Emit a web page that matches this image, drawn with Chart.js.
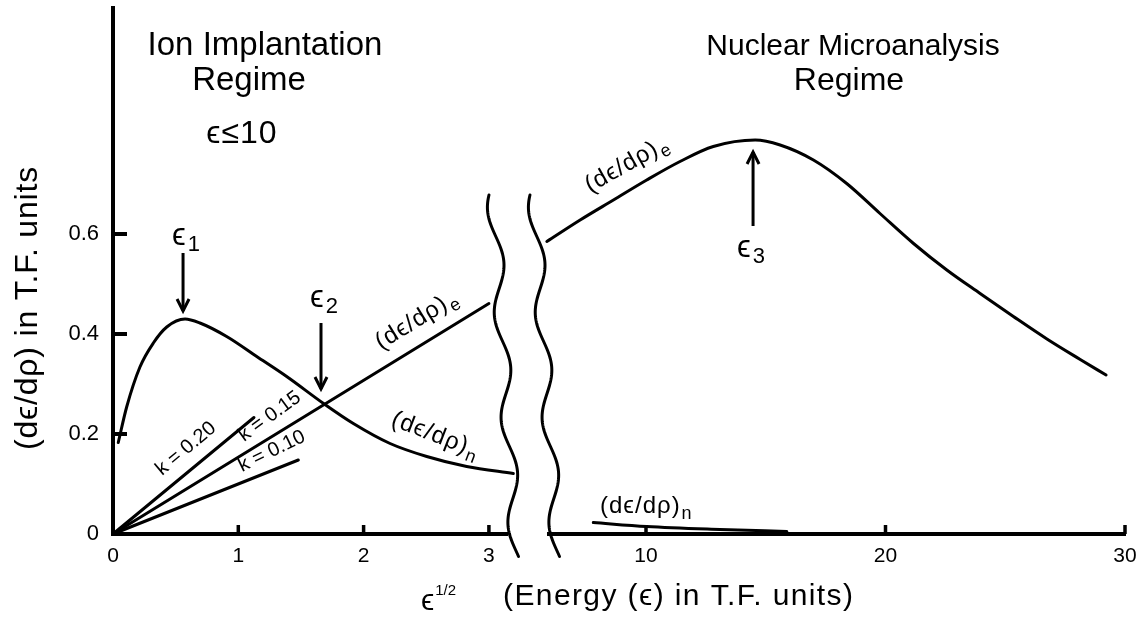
<!DOCTYPE html>
<html>
<head>
<meta charset="utf-8">
<script src="https://cdn.jsdelivr.net/npm/chart.js@4.4.1/dist/chart.umd.min.js"></script>
<style>
  html, body { margin: 0; padding: 0; background: #fff; }
  #wrap { position: relative; width: 1145px; height: 619px; }
  #wrap canvas { position: absolute; left: 0; top: 0; }
</style>
</head>
<body>
<div id="wrap">
  <canvas id="low" width="1145" height="619"></canvas>
  <canvas id="high" width="1145" height="619"></canvas>
</div>
<script>
// ---------- axis ranges and ticks ----------
const lowRangeX  = [0, 3.15];     // ε^1/2
const highRangeX = [5.95, 30];    // ε
const rangeY     = [0, 1.052];    // dε/dρ
const lowTicksX  = [0, 1, 2, 3];
const highTicksX = [10, 20, 30];
const ticksY     = [0, 0.2, 0.4, 0.6];

// ---------- low-energy panel (x = ε^1/2) ----------
// nuclear stopping
const snLowX = [0.042, 0.109, 0.215, 0.322, 0.429, 0.575, 0.694, 0.907, 1.147, 1.386, 1.686, 1.918, 2.211, 2.504, 2.823, 3.195];
const snLowY = [0.183, 0.254, 0.334, 0.382, 0.414, 0.430, 0.422, 0.395, 0.355, 0.315, 0.260, 0.221, 0.181, 0.155, 0.135, 0.121];
// electronic stopping (k = 0.15)
const seLowX = [0, 3.0];
const seLowY = [0, 0.461];
// electronic stopping, k = 0.20 and k = 0.10
const k20X = [0, 1.125];
const k20Y = [0, 0.233];
const k10X = [0, 1.479];
const k10Y = [0, 0.148];

// ---------- high-energy panel (x = ε) ----------
const seHighX = [5.86, 7.25, 8.64, 10.03, 11.42, 12.81, 14.56, 15.60, 16.99, 18.38, 19.77, 21.17, 22.56, 23.95, 25.34, 26.74, 28.13, 29.21];
const seHighY = [0.585, 0.628, 0.668, 0.708, 0.745, 0.775, 0.788, 0.778, 0.748, 0.701, 0.641, 0.581, 0.528, 0.481, 0.435, 0.390, 0.349, 0.318];
const snHighX = [7.80, 10.03, 13.09, 15.88];
const snHighY = [0.023, 0.015, 0.009, 0.005];

const FONT = '"Liberation Sans", Helvetica, Arial, sans-serif';
const EPS = '\u03F5';
const RHO = '\u03C1';

const pts = (xs, ys) => xs.map((x, i) => ({ x: x, y: ys[i] }));

function curve(xs, ys, smooth) {
  return {
    data: pts(xs, ys),
    showLine: true,
    borderColor: '#000',
    borderWidth: 3,
    borderCapStyle: 'round',
    pointRadius: 0,
    pointHoverRadius: 0,
    cubicInterpolationMode: smooth ? 'monotone' : 'default',
    tension: 0,
    clip: false
  };
}

// draws a run of text pieces (subscripts/superscripts via size + dy)
function drawParts(ctx, x, y, rot, parts, opt) {
  opt = opt || {};
  ctx.save();
  ctx.translate(x, y);
  ctx.rotate((rot || 0) * Math.PI / 180);
  ctx.fillStyle = '#000';
  ctx.textBaseline = 'alphabetic';
  ctx.textAlign = 'left';
  ctx.letterSpacing = (opt.spacing || 0) + 'px';
  let total = 0;
  parts.forEach(p => {
    ctx.font = p.s + 'px ' + FONT;
    total += ctx.measureText(p.t).width + (p.dx || 0);
  });
  let cx = opt.align === 'center' ? -total / 2 : 0;
  parts.forEach(p => {
    ctx.font = p.s + 'px ' + FONT;
    cx += (p.dx || 0);
    ctx.fillText(p.t, cx, p.dy || 0);
    cx += ctx.measureText(p.t).width;
  });
  ctx.restore();
}

const dLabel = (sub) => [{ t: '(d' + EPS + '/d' + RHO + ')', s: 24 }, { t: sub, s: 18, dy: 6, dx: 1 }];
const epsN = (n) => [{ t: EPS, s: 31 }, { t: n, s: 22, dy: 6, dx: 2 }];
const kLabel = (k) => [{ t: 'k = ' + k, s: 20 }];

// annotations placed in data coordinates of each panel
const lowNotes = [
  { x: 0.471, y: 0.578, parts: epsN('1') },
  { x: 1.572, y: 0.454, parts: epsN('2') },
  { x: 2.139, y: 0.368, rot: -31.6, parts: dLabel('e'), spacing: 1 },
  { x: 2.211, y: 0.218, rot: 21, parts: dLabel('n'), spacing: 1 },
  { x: 0.391, y: 0.116, rot: -40, parts: kLabel('0.20') },
  { x: 1.045, y: 0.184, rot: -36, parts: kLabel('0.15') },
  { x: 1.030, y: 0.124, rot: -26, parts: kLabel('0.10') }
];
const lowArrows = [
  { x: 0.559, from: 0.562, to: 0.446 },
  { x: 1.660, from: 0.422, to: 0.290 }
];
const highNotes = [
  { x: 13.80, y: 0.554, parts: epsN('3') },
  { x: 7.67, y: 0.682, rot: -29.6, parts: dLabel('e'), spacing: 1 },
  { x: 8.08, y: 0.042, rot: 0, parts: dLabel('n'), spacing: 1 }
];
const highArrows = [
  { x: 14.47, from: 0.616, to: 0.764 }
];

function notesPlugin(notes, arrows) {
  return {
    id: 'notes',
    afterDatasetsDraw(chart) {
      const { ctx, scales: { x, y } } = chart;
      ctx.save();
      ctx.strokeStyle = '#000';
      ctx.lineWidth = 3;
      arrows.forEach(a => {
        const px = x.getPixelForValue(a.x);
        const p1 = y.getPixelForValue(a.from);
        const p2 = y.getPixelForValue(a.to);
        const dir = Math.sign(p2 - p1);
        ctx.beginPath();
        ctx.moveTo(px, p1);
        ctx.lineTo(px, p2);
        ctx.stroke();
        ctx.beginPath();
        ctx.moveTo(px - 6, p2 - dir * 12);
        ctx.lineTo(px, p2);
        ctx.lineTo(px + 6, p2 - dir * 12);
        ctx.stroke();
      });
      notes.forEach(n => drawParts(ctx, x.getPixelForValue(n.x), y.getPixelForValue(n.y), n.rot, n.parts, { spacing: n.spacing }));
      ctx.restore();
    }
  };
}

// inward tick marks on the axes
function tickMarkPlugin(xVals, yVals) {
  return {
    id: 'tickMarks',
    afterDraw(chart) {
      const { ctx, scales: { x, y } } = chart;
      ctx.save();
      ctx.fillStyle = '#000';
      xVals.forEach(v => {
        const px = x.getPixelForValue(v);
        ctx.fillRect(px - 1.75, x.top - 9, 3.5, 9);
      });
      yVals.forEach(v => {
        const py = y.getPixelForValue(v);
        ctx.fillRect(y.right, py - 2, 14, 4);
      });
      ctx.restore();
    }
  };
}

// axis break marks and the titles around the frame
const framePlugin = {
  id: 'frame',
  afterDraw(chart) {
    const { ctx, chartArea: ca } = chart;
    ctx.save();
    ctx.strokeStyle = '#000';
    ctx.lineWidth = 3;
    ctx.lineCap = 'round';
    const y0 = ca.bottom - 324;
    const top = ca.bottom - 339, bottom = ca.bottom + 23;
    [ca.left - 55, ca.left - 14].forEach(base => {
      ctx.beginPath();
      for (let yy = top; yy <= bottom; yy += 1.5) {
        const xx = base + 0.065 * (yy - y0) - 6.5 * Math.cos(2 * Math.PI * (yy - y0) / 105);
        if (yy === top) ctx.moveTo(xx, yy); else ctx.lineTo(xx, yy);
      }
      ctx.stroke();
    });
    ctx.restore();

    drawParts(ctx, 265, 55, 0, [{ t: 'Ion Implantation', s: 33 }], { align: 'center' });
    drawParts(ctx, 249, 90, 0, [{ t: 'Regime', s: 33 }], { align: 'center' });
    drawParts(ctx, 242, 143, 0, [{ t: EPS + '\u2264' + '10', s: 32 }], { align: 'center', spacing: 1 });
    drawParts(ctx, 853, 55, 0, [{ t: 'Nuclear Microanalysis', s: 30 }], { align: 'center' });
    drawParts(ctx, 849, 90, 0, [{ t: 'Regime', s: 32 }], { align: 'center' });

    drawParts(ctx, 37, 308, -90, [{ t: '(d' + EPS + '/d' + RHO + ') in T.F. units', s: 32 }], { align: 'center', spacing: 0.8 });
    drawParts(ctx, 421, 610, 0, [{ t: EPS, s: 30 }, { t: '1/2', s: 15, dy: -15, dx: 1 }]);
    drawParts(ctx, 503, 605, 0, [{ t: '(Energy (' + EPS + ') in T.F. units)', s: 30 }], { spacing: 1.4 });
  }
};

function xScale(range, ticks) {
  return {
    type: 'linear',
    position: 'bottom',
    min: range[0],
    max: range[1],
    grid: { display: false },
    border: { display: true, width: 4, color: '#000' },
    ticks: { color: '#000', font: { family: FONT, size: 21 }, padding: 2, maxRotation: 0, autoSkip: false },
    afterBuildTicks: s => { s.ticks = ticks.map(v => ({ value: v })); },
    afterFit: s => { s.height = 85; s.paddingLeft = 0; s.paddingRight = 0; }
  };
}

function yScale(show) {
  return {
    type: 'linear',
    display: show,
    position: 'left',
    min: rangeY[0],
    max: rangeY[1],
    grid: { display: false },
    border: { display: true, width: 4, color: '#000' },
    ticks: { color: '#000', font: { family: FONT, size: 22 }, padding: 6 },
    afterBuildTicks: s => { s.ticks = ticksY.map(v => ({ value: v })); },
    afterFit: s => {
      s.width = show ? 113 : 0;
      s.paddingTop = 0;
      s.paddingBottom = 0;
    }
  };
}

const common = {
  responsive: false,
  animation: false,
  devicePixelRatio: 1,
  events: [],
  plugins: { legend: { display: false }, tooltip: { enabled: false } }
};

new Chart(document.getElementById('low'), {
  type: 'scatter',
  data: {
    datasets: [
      curve(snLowX, snLowY, true),
      curve(seLowX, seLowY, false),
      curve(k20X, k20Y, false),
      curve(k10X, k10Y, false)
    ]
  },
  options: Object.assign({}, common, {
    layout: { padding: { left: 0, top: 8, right: 637.3, bottom: 0 } },
    scales: { x: xScale(lowRangeX, lowTicksX), y: yScale(true) }
  }),
  plugins: [notesPlugin(lowNotes, lowArrows), tickMarkPlugin([1, 2, 3], [0.2, 0.4, 0.6])]
});

new Chart(document.getElementById('high'), {
  type: 'scatter',
  data: {
    datasets: [
      curve(seHighX, seHighY, true),
      curve(snHighX, snHighY, true)
    ]
  },
  options: Object.assign({}, common, {
    layout: { padding: { left: 549, top: 8, right: 20, bottom: 0 } },
    scales: { x: xScale(highRangeX, highTicksX), y: yScale(false) }
  }),
  plugins: [notesPlugin(highNotes, highArrows), tickMarkPlugin(highTicksX, []), framePlugin]
});
</script>
</body>
</html>
